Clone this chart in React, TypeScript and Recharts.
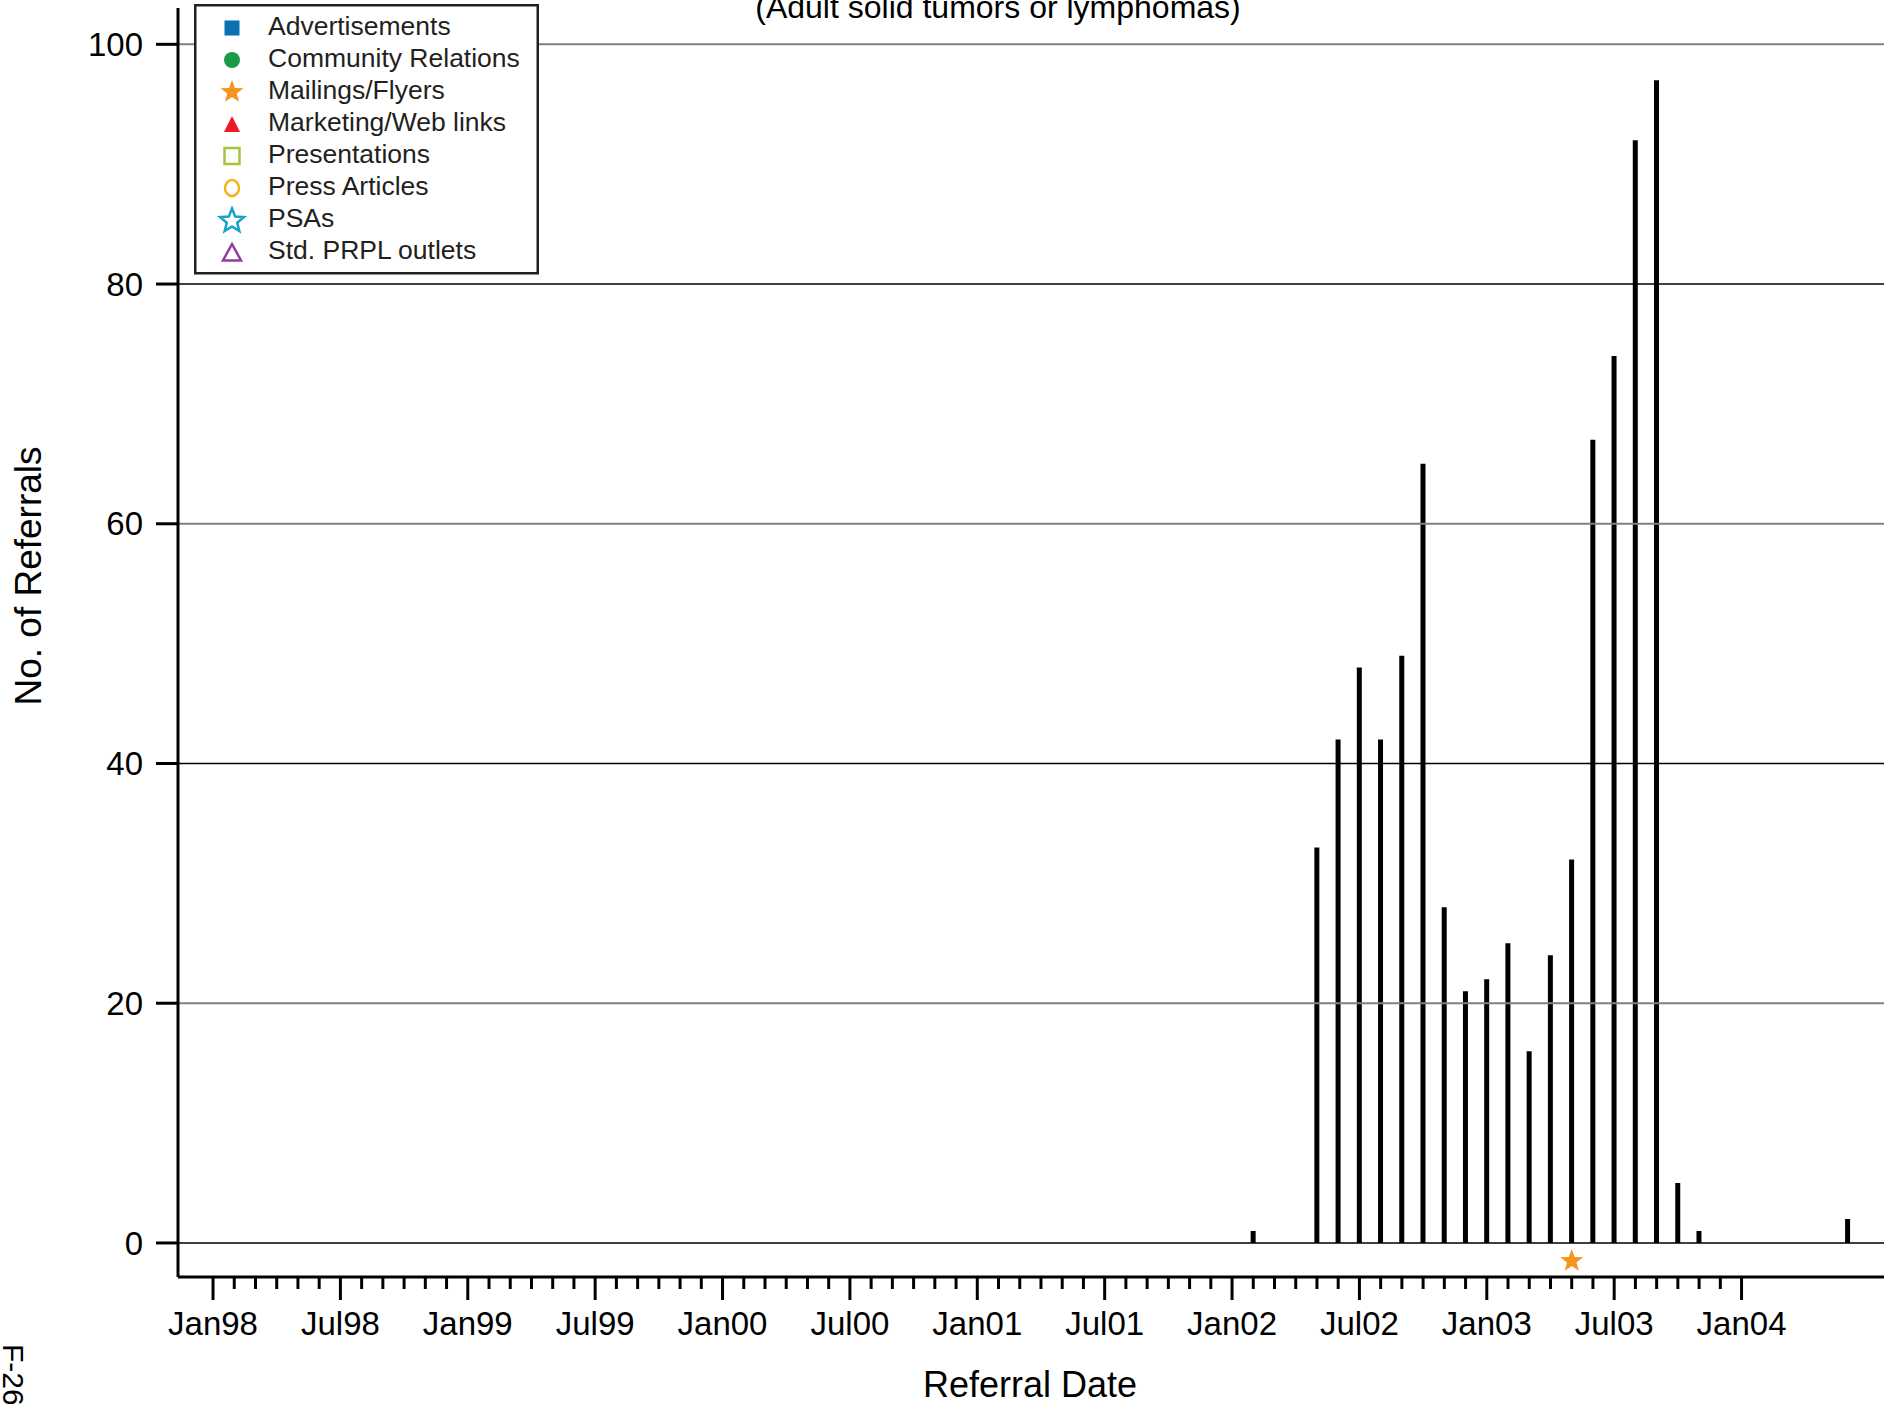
import React from "react";
import {
  ComposedChart,
  Bar,
  Scatter,
  XAxis,
  YAxis,
  ReferenceLine,
  Legend,
  Label,
  Customized,
} from "recharts";

const MONTHS = ["Jan", "Feb", "Mar", "Apr", "May", "Jun", "Jul", "Aug", "Sep", "Oct", "Nov", "Dec"];

// monthly referral counts (only non-zero months are listed)
const referralMonths = [
  "Feb02", "May02", "Jun02", "Jul02", "Aug02", "Sep02", "Oct02", "Nov02", "Dec02",
  "Jan03", "Feb03", "Mar03", "Apr03", "May03", "Jun03", "Jul03", "Aug03", "Sep03",
  "Oct03", "Nov03", "Jun04",
];
const referralCounts = [1, 33, 42, 48, 42, 49, 65, 28, 21, 22, 25, 16, 24, 32, 67, 74, 92, 97, 5, 1, 2];

// outreach events shown as markers under the bars
const mailingMonths = ["May03"];

const xTickLabels = [
  "Jan98", "Jul98", "Jan99", "Jul99", "Jan00", "Jul00", "Jan01",
  "Jul01", "Jan02", "Jul02", "Jan03", "Jul03", "Jan04",
];
const yTicks = [0, 20, 40, 60, 80, 100];

const legendNames = [
  "Advertisements",
  "Community Relations",
  "Mailings/Flyers",
  "Marketing/Web links",
  "Presentations",
  "Press Articles",
  "PSAs",
  "Std. PRPL outlets",
];
const legendColors = ["#0B6FB6", "#1C9A48", "#F7941E", "#EC1C24", "#A6C33C", "#EDB41B", "#18A2C6", "#8E3F9C"];

const FONT = '"Liberation Sans", Arial, Helvetica, sans-serif';
const MARKER_LEVEL = -1.5;

function monthIndex(label: string) {
  const yy = parseInt(label.slice(3), 10);
  const year = yy < 50 ? 2000 + yy : 1900 + yy;
  return (year - 1998) * 12 + MONTHS.indexOf(label.slice(0, 3));
}

const barData = referralMonths.map((m, i) => ({ m: monthIndex(m), count: referralCounts[i] }));
const mailingData = mailingMonths.map((m) => ({ m: monthIndex(m), v: MARKER_LEVEL }));
const monthTicks = Array.from({ length: (xTickLabels.length - 1) * 6 + 1 }, (_, i) => i);

function starPath(cx: number, cy: number, R: number, r: number) {
  let d = "";
  for (let i = 0; i < 10; i++) {
    const a = -Math.PI / 2 + (i * Math.PI) / 5;
    const rad = i % 2 === 0 ? R : r;
    d += (i === 0 ? "M" : "L") + (cx + rad * Math.cos(a)).toFixed(2) + "," + (cy + rad * Math.sin(a)).toFixed(2);
  }
  return d + "Z";
}

const MonthTick = (props: any) => {
  const { x, y, payload } = props;
  const m = payload.value as number;
  const major = m % 6 === 0;
  return (
    <g>
      <line x1={x} x2={x} y1={y} y2={y + (major ? 23 : 12)} stroke="#000" strokeWidth={3} />
      {major && (
        <text x={x} y={y + 58} textAnchor="middle" fontSize={33} fill="#000" fontFamily={FONT}>
          {xTickLabels[m / 6]}
        </text>
      )}
    </g>
  );
};

function LegendMarker({ i, cx, cy }: { i: number; cx: number; cy: number }) {
  const c = legendColors[i];
  switch (i) {
    case 0:
      return <rect x={cx - 7.5} y={cy - 7.5} width={15} height={15} fill={c} />;
    case 1:
      return <circle cx={cx} cy={cy} r={8} fill={c} />;
    case 2:
      return <path d={starPath(cx, cy, 12, 5)} fill={c} />;
    case 3:
      return <path d={`M${cx},${cy - 8}L${cx + 8},${cy + 8}L${cx - 8},${cy + 8}Z`} fill={c} />;
    case 4:
      return <rect x={cx - 7.5} y={cy - 8} width={15} height={16} fill="none" stroke={c} strokeWidth={2.5} />;
    case 5:
      return <ellipse cx={cx} cy={cy} rx={7} ry={8} fill="none" stroke={c} strokeWidth={2.5} />;
    case 6:
      return <path d={starPath(cx, cy + 1, 12.5, 5.5)} fill="none" stroke={c} strokeWidth={2.5} strokeLinejoin="miter" />;
    default:
      return <path d={`M${cx},${cy - 8}L${cx + 9},${cy + 8.5}L${cx - 9},${cy + 8.5}Z`} fill="none" stroke={c} strokeWidth={2.5} />;
  }
}

const LegendBox = () => (
  <svg width={345} height={271} style={{ display: "block" }}>
    <rect x={1.25} y={1.25} width={342.5} height={268} fill="#fff" stroke="#231F20" strokeWidth={2.5} />
    {legendNames.map((name, i) => (
      <g key={name}>
        <LegendMarker i={i} cx={38} cy={24 + i * 32} />
        <text x={74} y={30.5 + i * 32} fontSize={26.5} fill="#231F20" fontFamily={FONT}>
          {name}
        </text>
      </g>
    ))}
  </svg>
);

const ExtraText = () => (
  <g fontFamily={FONT} fill="#000">
    <text x={998} y={18} textAnchor="middle" fontSize={32}>
      (Adult solid tumors or lymphomas)
    </text>
    <text x={3} y={1344} fontSize={30} transform="rotate(90 3 1344)">
      F-26
    </text>
  </g>
);

export default function App() {
  return (
    <div style={{ position: "absolute", left: 0, top: 0, width: 1902, height: 1404, background: "#fff", fontFamily: FONT }}>
      <ComposedChart
        width={1902}
        height={1404}
        data={barData}
        margin={{ top: 8, right: 18, bottom: 0, left: 0 }}
      >
        {yTicks.map((v, i) => (
          <ReferenceLine
            key={v}
            y={v}
            stroke={i % 2 === 0 ? "#000" : "#808080"}
            strokeWidth={i % 2 === 0 ? 1.5 : 2}
          />
        ))}
        <XAxis
          dataKey="m"
          type="number"
          domain={[-1.65, 78.71]}
          allowDataOverflow
          ticks={monthTicks}
          interval={0}
          height={127}
          tickSize={0}
          tickMargin={0}
          tickLine={false}
          axisLine={{ stroke: "#000", strokeWidth: 3 }}
          tick={<MonthTick />}
        >
          <Label
            content={() => (
              <text x={1030} y={1397} textAnchor="middle" fontSize={36} fill="#000" fontFamily={FONT}>
                Referral Date
              </text>
            )}
          />
        </XAxis>
        <YAxis
          type="number"
          domain={[-2.84, 103.03]}
          allowDataOverflow
          ticks={yTicks}
          interval={0}
          width={178}
          tickSize={22}
          tickMargin={13}
          tickLine={{ stroke: "#000", strokeWidth: 3 }}
          axisLine={{ stroke: "#000", strokeWidth: 3 }}
          tick={{ fontSize: 33, fill: "#000", fontFamily: FONT }}
        >
          <Label
            content={() => (
              <text
                x={41}
                y={576}
                textAnchor="middle"
                fontSize={37}
                fill="#000"
                fontFamily={FONT}
                transform="rotate(-90 41 576)"
              >
                No. of Referrals
              </text>
            )}
          />
        </YAxis>
        <Bar dataKey="count" fill="#000" barSize={5} isAnimationActive={false} />
        <Scatter
          data={mailingData}
          dataKey="v"
          isAnimationActive={false}
          shape={(p: any) => <path d={starPath(p.cx, p.cy, 12, 5)} fill={legendColors[2]} />}
        />
        <Legend
          layout="vertical"
          align="center"
          verticalAlign="middle"
          content={() => <LegendBox />}
          wrapperStyle={{ position: "absolute", left: 194, top: 4, width: 345, height: 271 }}
        />
        <Customized component={ExtraText} />
      </ComposedChart>
    </div>
  );
}
